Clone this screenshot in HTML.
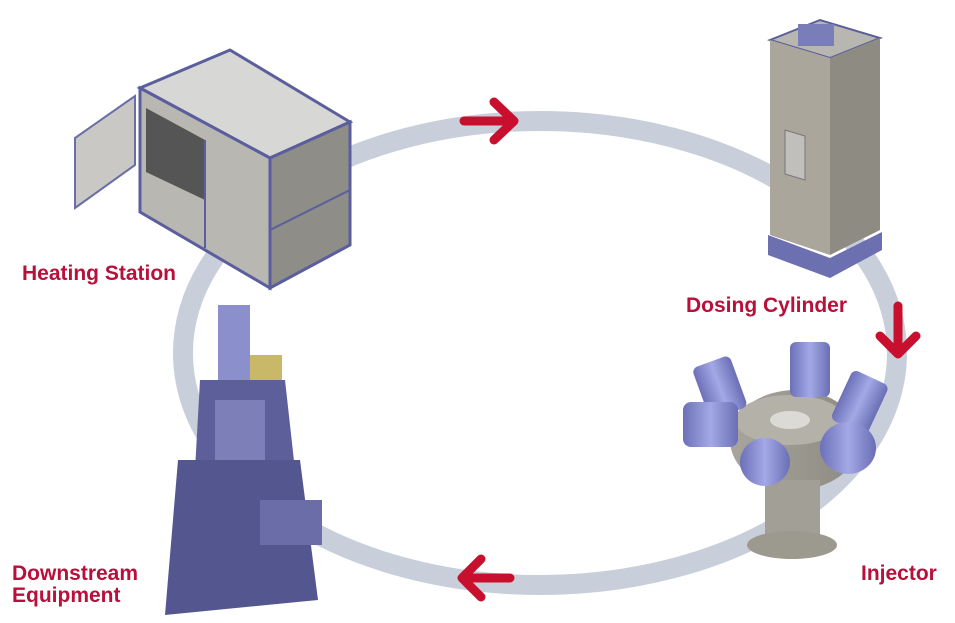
<!DOCTYPE html>
<html><head><meta charset="utf-8"><style>
html,body{margin:0;padding:0;background:#fff;}
svg{display:block}
text{font-family:"Liberation Sans",sans-serif;font-weight:bold;fill:#b8103a;font-size:21px}
</style></head><body>
<svg width="955" height="623" viewBox="0 0 955 623">
<defs>
<linearGradient id="gb" x1="0" x2="1"><stop offset="0" stop-color="#6c70b8"/><stop offset="0.5" stop-color="#a3a8e6"/><stop offset="1" stop-color="#6a6fb5"/></linearGradient>
<linearGradient id="gg" x1="0" x2="1"><stop offset="0" stop-color="#a8a59c"/><stop offset="1" stop-color="#8d8a82"/></linearGradient>
</defs>
<ellipse cx="540" cy="353" rx="357" ry="232" fill="none" stroke="#c8cfdb" stroke-width="20"/>
<g stroke="#c8102e" stroke-width="9" stroke-linecap="round" stroke-linejoin="round" fill="none">
<path d="M464 121 H514 M494 102 L514 121 L494 140"/>
<path d="M898 306 V354 M880 336 L898 354 L916 336"/>
<path d="M510 578 H462 M481 559 L462 578 L481 597"/>
</g>
<!-- Heating station -->
<polygon points="140,88 230,50 350,122 270,158" fill="#d7d7d5" stroke="#5a5e9c" stroke-width="3"/>
<polygon points="140,88 270,158 270,288 140,212" fill="#b9b7b2" stroke="#5a5e9c" stroke-width="3"/>
<polygon points="270,158 350,122 350,245 270,288" fill="#8f8d88" stroke="#5a5e9c" stroke-width="3"/>
<polygon points="146,108 205,140 205,200 146,172" fill="#555"/>
<polygon points="75,138 135,96 135,165 75,208" fill="#c9c8c4" stroke="#6a6da8" stroke-width="2"/>
<line x1="205" y1="140" x2="205" y2="248" stroke="#5a5e9c" stroke-width="2"/>
<line x1="270" y1="230" x2="350" y2="190" stroke="#5a5e9c" stroke-width="2"/>
<!-- Dosing cylinder -->
<polygon points="770,40 820,20 880,38 830,58" fill="#b8b6b0" stroke="#5a5e9c" stroke-width="2"/>
<polygon points="770,40 830,58 830,255 770,235" fill="#aaa69c"/>
<polygon points="830,58 880,38 880,230 830,255" fill="#8e8b83"/>
<rect x="798" y="24" width="36" height="22" fill="#7a7eb8"/>
<polygon points="785,130 805,136 805,180 785,174" fill="#c0bfbb" stroke="#777"/>
<polygon points="768,235 830,258 882,232 882,250 830,278 768,255" fill="#6c70b0"/>
<!-- Injector -->
<ellipse cx="795" cy="440" rx="65" ry="50" fill="url(#gg)"/>
<ellipse cx="790" cy="420" rx="55" ry="25" fill="#b4b1a8"/>
<ellipse cx="790" cy="420" rx="20" ry="9" fill="#dcdad4"/>
<rect x="765" y="480" width="55" height="60" fill="#a29f97"/>
<ellipse cx="792" cy="545" rx="45" ry="14" fill="#9c998f"/>
<g fill="url(#gb)">
<rect x="700" y="360" width="40" height="55" rx="6" transform="rotate(-20 720 388)"/>
<rect x="790" y="342" width="40" height="55" rx="6"/>
<rect x="840" y="375" width="40" height="55" rx="6" transform="rotate(25 860 402)"/>
<rect x="683" y="402" width="55" height="45" rx="8"/>
<ellipse cx="765" cy="462" rx="25" ry="24"/>
<ellipse cx="848" cy="448" rx="28" ry="26"/>
</g>
<!-- Downstream equipment -->
<rect x="218" y="305" width="32" height="100" fill="#8b8fcb"/>
<rect x="250" y="355" width="32" height="50" fill="#c8b868"/>
<polygon points="200,380 285,380 295,470 195,470" fill="#5c5f9a"/>
<polygon points="178,460 300,460 318,600 165,615" fill="#54578f"/>
<rect x="260" y="500" width="62" height="45" fill="#6a6da8"/>
<rect x="215" y="400" width="50" height="60" fill="#7d80b8"/>
<text x="22" y="280">Heating Station</text>
<text x="686" y="312">Dosing Cylinder</text>
<text x="861" y="580">Injector</text>
<text x="12" y="580">Downstream</text>
<text x="12" y="602">Equipment</text>
</svg>
</body></html>
